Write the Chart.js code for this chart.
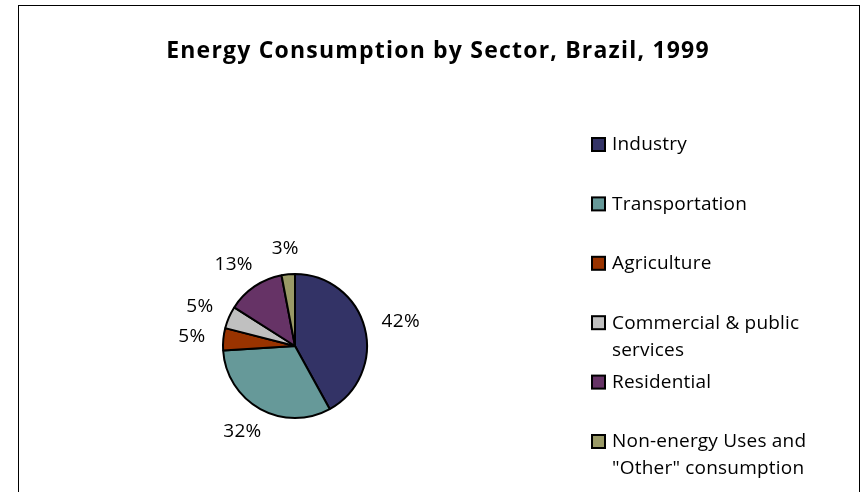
<!DOCTYPE html>
<html>
<head>
<meta charset="utf-8">
<script src="https://cdn.jsdelivr.net/npm/chart.js@4"></script>
<style>
  html, body { margin: 0; padding: 0; background: #fff; }
  canvas { display: block; }
</style>
</head>
<body>
<canvas id="chart" width="864" height="492"></canvas>
<script>
const chartTitle = 'Energy Consumption by Sector, Brazil, 1999';
const sectors = [
  'Industry',
  'Transportation',
  'Agriculture',
  'Commercial & public services',
  'Residential',
  'Non-energy Uses and "Other" consumption'
];
// legend wraps the same way the original does
const legendLines = [
  ['Industry'],
  ['Transportation'],
  ['Agriculture'],
  ['Commercial & public', 'services'],
  ['Residential'],
  ['Non-energy Uses and', '"Other" consumption']
];
const shares = [42, 32, 5, 5, 13, 3];
const sectorColors = ['#333366', '#669999', '#993300', '#c0c0c0', '#663366', '#999966'];

const FONT = '"Open Sans", "Noto Sans", sans-serif';

// frame + title
const framePlugin = {
  id: 'frame',
  beforeDraw(chart) {
    const ctx = chart.ctx;
    ctx.save();
    ctx.fillStyle = '#fff';
    ctx.fillRect(0, 0, chart.width, chart.height);
    ctx.strokeStyle = '#000';
    ctx.lineWidth = 1;
    ctx.strokeRect(18.5, 5.5, 841, 600);
    ctx.fillStyle = '#000';
    ctx.font = 'bold 23px ' + FONT;
    ctx.letterSpacing = '1.2px';
    ctx.textAlign = 'center';
    ctx.textBaseline = 'alphabetic';
    ctx.fillText(chartTitle, 438, 58);
    ctx.restore();
  }
};

// percentage labels just outside each slice
const outsideLabels = {
  id: 'outsideLabels',
  afterDatasetsDraw(chart) {
    const ctx = chart.ctx;
    const meta = chart.getDatasetMeta(0);
    const total = shares.reduce((a, b) => a + b, 0);
    ctx.save();
    ctx.font = '19px ' + FONT;
    ctx.letterSpacing = '0.3px';
    ctx.fillStyle = '#000';
    ctx.textAlign = 'center';
    ctx.textBaseline = 'middle';
    meta.data.forEach((arc, i) => {
      const { x, y, startAngle, endAngle, outerRadius } = arc.getProps(['x', 'y', 'startAngle', 'endAngle', 'outerRadius'], true);
      const mid = (startAngle + endAngle) / 2;
      const ux = Math.cos(mid), uy = Math.sin(mid);
      const txt = Math.round(shares[i] / total * 100) + '%';
      const w = ctx.measureText(txt).width;
      const r = outerRadius + 18;
      const cx = x + ux * r + ux * w / 2;
      const cy = y + uy * r + uy * 8;
      ctx.fillText(txt, cx, cy);
    });
    ctx.restore();
  }
};

// legend on the right, drawn by hand so long names can wrap
const sideLegend = {
  id: 'sideLegend',
  afterDraw(chart) {
    const ctx = chart.ctx;
    ctx.save();
    ctx.font = '19px ' + FONT;
    ctx.letterSpacing = '0.2px';
    ctx.textBaseline = 'middle';
    ctx.textAlign = 'left';
    legendLines.forEach((lines, i) => {
      const rowY = 145 + i * 59.4;
      ctx.fillStyle = sectorColors[i];
      ctx.fillRect(592, rowY - 7, 13, 13);
      ctx.strokeStyle = '#000';
      ctx.lineWidth = 2;
      ctx.strokeRect(592, rowY - 7, 13, 13);
      ctx.fillStyle = '#000';
      lines.forEach((ln, j) => ctx.fillText(ln, 612, rowY + j * 27));
    });
    ctx.restore();
  }
};

new Chart(document.getElementById('chart'), {
  type: 'pie',
  data: {
    labels: sectors,
    datasets: [{
      data: shares,
      backgroundColor: sectorColors,
      borderColor: '#000',
      borderWidth: 2,
      hoverOffset: 0
    }]
  },
  options: {
    responsive: false,
    animation: false,
    devicePixelRatio: 1,
    layout: { padding: { left: 222, right: 496, top: 273, bottom: 73 } },
    plugins: {
      legend: { display: false },
      tooltip: { enabled: false },
      title: { display: false }
    }
  },
  plugins: [framePlugin, outsideLabels, sideLegend]
});
</script>
</body>
</html>
